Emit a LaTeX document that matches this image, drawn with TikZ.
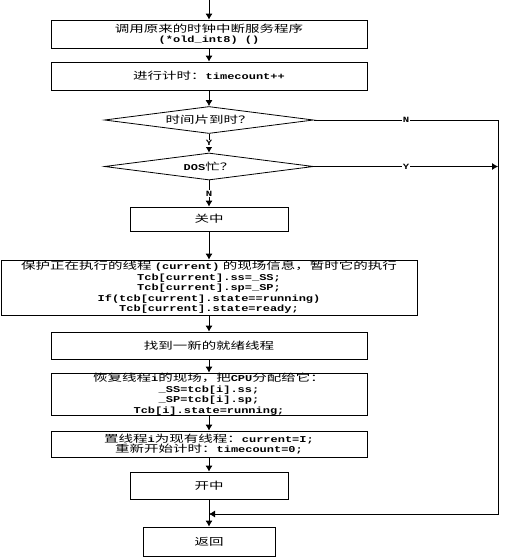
\documentclass[tikz,border=0pt]{standalone}
\usepackage{fontspec}
\setmainfont[FakeStretch=1.45]{Noto Sans CJK SC}
\setmonofont[FakeStretch=1.33]{Liberation Mono}
\usetikzlibrary{arrows.meta,shapes.geometric}
\newcommand\cd[1]{{\ttfamily\bfseries\fontsize{9}{10}\selectfont #1}}

\begin{document}
\begin{tikzpicture}[x=1pt,y=-1pt,>={Latex[length=6pt,width=7pt]},line width=0.8pt,
	kasten/.style={draw,rectangle,inner sep=0pt,align=center,
		font=\fontsize{10}{10.5}\selectfont},
	raute/.style={draw,diamond,aspect=7.7,inner sep=0pt,minimum width=209pt,
		minimum height=27pt,font=\fontsize{10}{10.5}\selectfont},
	marke/.style={fill=white,inner sep=1pt,font=\ttfamily\bfseries\fontsize{8}{8}\selectfont}]
\useasboundingbox (0,0) rectangle (506,558);
\coordinate (start) at (209,0);
\node[kasten,minimum width=316pt,minimum height=28pt] (unterbr) at (209,34)
	{调用原来的时钟中断服务程序\\\cd{(*old\_int8) ()}};
\node[kasten,minimum width=316pt,minimum height=28pt] (zaehlen) at (209,76)
	{进行计时：\cd{timecount++}};
\node[raute] (zeit) at (209,120) {时间片到时？};
\node[raute] (dos) at (209,166.5) {\cd{DOS}忙？};
\node[kasten,minimum width=158pt,minimum height=24pt] (aus) at (209,219) {关中};
\node[kasten,minimum width=416pt,minimum height=55pt] (sichern) at (209,287.5)
	{保护正在执行的线程 \cd{(current)} 的现场信息，暂时它的执行\\
	\cd{Tcb[current].ss=\_SS;}\\
	\cd{Tcb[current].sp=\_SP;}\\
	\cd{If(tcb[current].state==running)}\\
	\cd{Tcb[current].state=ready;}};
\node[kasten,minimum width=316pt,minimum height=27pt] (suchen) at (209,345.5)
	{找到一新的就绪线程};
\node[kasten,minimum width=316pt,minimum height=42pt] (wieder) at (209,394)
	{恢复线程\cd{i}的现场，把\cd{CPU}分配给它：\\
	\cd{\_SS=tcb[i].ss;}\\
	\cd{\_SP=tcb[i].sp;}\\
	\cd{Tcb[i].state=running;}};
\node[kasten,minimum width=316pt,minimum height=26pt] (setzen) at (209,444)
	{置线程\cd{i}为现有线程：\cd{current=I;}\\
	重新开始计时：\cd{timecount=0;}};
\node[kasten,minimum width=158pt,minimum height=27pt] (ein) at (209,485.5) {开中};
\node[kasten,minimum width=132pt,minimum height=29pt] (zurueck) at (209,541.5) {返回};
\coordinate (rechts) at (498,120);
\coordinate (ecke) at (498,514);
\coordinate (treff) at (209,514);
% Hauptlinie
\draw[->] (start) -- (unterbr);
\draw[->] (unterbr) -- (zaehlen);
\draw[->] (zaehlen) -- (zeit);
\draw[->] (zeit) -- node[marke]{Y} (dos);
\draw[->] (dos) -- node[marke]{N} (aus);
\draw[->] (aus) -- (sichern);
\draw[->] (sichern) -- (suchen);
\draw[->] (suchen) -- (wieder);
\draw[->] (wieder) -- (setzen);
\draw[->] (setzen) -- (ein);
\draw[->] (ein) -- (zurueck);
% Seitenlinie
\draw[->] (zeit.east) -- node[marke]{N} (rechts) -- (ecke) -- (treff);
\draw[->] (dos.east) -- node[marke]{Y} (dos.east -| ecke);
\end{tikzpicture}
\end{document}
